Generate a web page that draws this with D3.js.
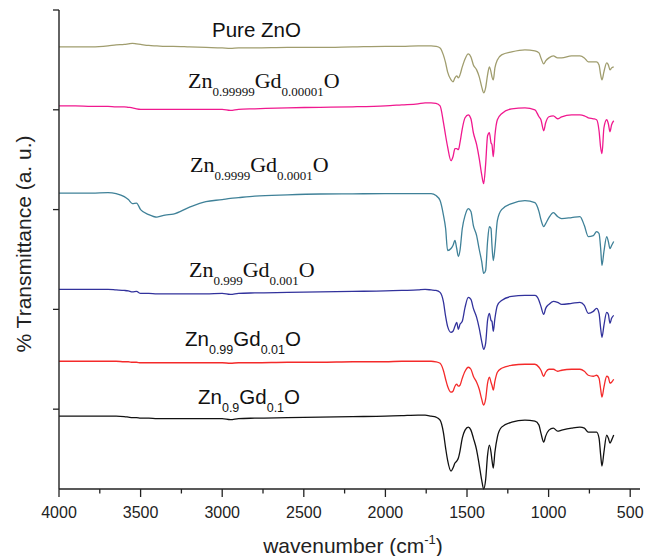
<!DOCTYPE html>
<html>
<head>
<meta charset="utf-8">
<script src="https://cdn.jsdelivr.net/npm/d3@7/dist/d3.min.js"></script>
<style>
body{margin:0;background:#fff;}
</style>
</head>
<body>
<svg id="chart" width="646" height="556"></svg>
<script>
// rejilla de numeros de onda (cm-1)
var wavenumber = [4000,3900,3800,3700,3650,3600,3575,3550,3525,3500,3450,3400,3350,3300,3200,3100,3000,2950,2900,2800,2600,2400,2200,2000,1900,1800,
	1757,1720,1690,1665,1645,1631,1619,1598,1586,1574,1563,1553,1543,1529,1512,1492,1476,1461,1441,1425,
	1410,1398,1386,1374,1363,1353,1347,1339,1329,1314,1288,1226,1145,1084,1059,1047,1030,1018,998,971,
	945,920,859,808,781,757,726,706,691,681,673,661,644,634,624,614,601];

// caida de transmitancia bajo la linea base de cada espectro (a. u.)
var pureZnO = [1,1,1,0,-1,-1.5,-2,-2.5,-2,-1.5,-0.5,0,0.5,0.5,1,1.5,2,2.5,2,2,1.5,1.5,1,0.5,0.5,0,
	0,0,0.5,2,9,17,26,34,36,32,30,32,29,21,13,8,11,19,24,31,41,47,42,29,21,26,31,34,22,14,9,6,4,5,7,12,18,15,12,10,12,12,10,10,12,16,16,16,19,29,34,26,17,19,24,22,21];
var gd00001 = [3,3,3.5,3.5,4,4,4.5,5,6,6.5,6.5,6.5,6.5,6.5,6.5,6.5,6.5,7.5,6.5,6,5,4.5,4,3,2,1,
	0,0,0.5,3,19,33,44,58,54,46,46,47,40,26,15,12,16,30,42,56,72,81,62,33,30,40,42,54,33,17,11,6,5,7,14,17,28,20,14,13,16,14,12,12,13,15,16,17,28,45,51,25,17,21,29,22,18];
var gd0001 = [-0.5,-0.5,-0.5,-1,0,3,6,10,9.5,16,21,23.5,21.5,20.5,13.5,8,6,4.8,4,2.5,1.2,0.4,0.2,0,0,0,
	0,0,2,7,21,35,57,55,52,47,55,63,57,35,22,15,18,32,42,56,68,80,77,48,33,35,52,67,55,27,16,10,7,9,18,26,33,30,24,19,23,25,24,23,32,43,42,38,40,55,72,58,43,48,55,52,48];
var gd001 = [0,0,0,0,0.5,1,1.5,2.5,2,4,4,4.5,4.5,4.5,4.5,4.5,4,5,4,3.5,3,2.5,2,1.5,1,0.5,
	0,0.5,1,3,12,27,37,43,42,37,33,40,35,32,18,8,10,19,28,39,52,60,54,31,24,31,32,42,29,16,11,7,6,6,11,17,25,19,15,12,13,15,14,13,16,24,22,19,24,39,48,36,23,25,34,29,26];
var gd01 = [0,0,0,0,0,0.5,0.5,1,1,1.5,1.5,1.5,1.5,1.5,1.5,1.5,1.5,2,1.5,1.5,1,1,0.5,0.5,0,0,
	0,0,0.5,2,9,18,25,31,30,25,23,25,24,17,10,6,8,15,21,28,38,44,38,22,16,21,24,29,20,11,7,4,3,3,6,9,15,11,8,8,10,9,8,8,10,14,15,14,17,28,36,26,15,16,22,21,18];
var gd1 = [1,1,1,1,1,1.5,2,2.5,2.5,3,3,3.5,3.5,3.5,3.5,3.5,3.5,4.5,3.5,3,2.5,2,1.5,1,0.5,0,
	0,1,2,5,17,33,45,56,53,48,46,43,36,23,15,12,15,23,35,50,65,74,65,40,30,37,45,53,37,22,12,7,5,6,10,18,27,21,15,13,16,15,13,12,13,17,17,17,23,40,51,37,20,23,28,25,20];

// desplazamiento vertical de cada espectro (a. u.)
var offsets = [444, 387, 296, 200, 128, 74];
var series = [pureZnO, gd00001, gd0001, gd001, gd01, gd1];

// etiquetas: partes alternas normal / subindice
var labels = [
	["Pure ZnO"],
	["Zn","0.99999","Gd","0.00001","O"],
	["Zn","0.9999","Gd","0.0001","O"],
	["Zn","0.999","Gd","0.001","O"],
	["Zn","0.99","Gd","0.01","O"],
	["Zn","0.9","Gd","0.1","O"]
];
var xTicks = [4000,3750,3500,3250,3000,2750,2500,2250,2000,1750,1500,1250,1000,750,500];
var yTicks = [80,180,280,380,480];

var colores = ["#a09d6e","#f0198f","#3f8198","#32329c","#f42a2a","#111111"];
// posicion de etiquetas (x inicio, linea base), familia y tamanos
var labelPos = [
	{x:212, y:37, fam:"Liberation Sans", big:20.5, small:20.5},
	{x:188, y:88, fam:"Liberation Serif", big:22, small:13},
	{x:190, y:172, fam:"Liberation Serif", big:22, small:13},
	{x:189, y:277, fam:"Liberation Serif", big:22, small:13},
	{x:185, y:346, fam:"Liberation Sans", big:20.5, small:12.5},
	{x:198, y:404, fam:"Liberation Sans", big:20.5, small:12.5}
];

var svg = d3.select("#chart");
var x = d3.scaleLinear().domain([4000, 440]).range([59, 640]);
var y = d3.scaleLinear().domain([0, 480]).range([489, 10]);

series.forEach(function(s, k){
	var pts = wavenumber.map(function(w, i){ return [w, offsets[k] - s[i]]; });
	var line = d3.line()
		.x(function(d){ return x(d[0]); })
		.y(function(d){ return y(d[1]); })
		.curve(d3.curveMonotoneX);
	svg.append("path")
		.attr("d", line(pts))
		.attr("fill", "none")
		.attr("stroke", colores[k])
		.attr("stroke-width", 1.3)
		.attr("stroke-linejoin", "round");
});

// ejes
var gx = svg.append("g").attr("transform", "translate(0,489)");
gx.append("line").attr("x1", 59).attr("x2", 640).attr("y1", 0).attr("y2", 0)
	.attr("stroke", "#222").attr("stroke-width", 1.4);
gx.selectAll("line.t").data(xTicks).enter().append("line")
	.attr("class", "t")
	.attr("x1", function(d){ return x(d); })
	.attr("x2", function(d){ return x(d); })
	.attr("y1", 0)
	.attr("y2", function(d){ return d % 500 == 0 ? 8 : 4.5; })
	.attr("stroke", "#222").attr("stroke-width", 1.3);
gx.selectAll("text").data(xTicks.filter(function(d){ return d % 500 == 0; })).enter().append("text")
	.attr("x", function(d){ return x(d); })
	.attr("y", 29)
	.attr("text-anchor", "middle")
	.attr("font-family", "Liberation Sans, Arial, sans-serif")
	.attr("font-size", "16px")
	.attr("fill", "#222")
	.text(function(d){ return d; });

var gy = svg.append("g");
gy.append("line").attr("x1", 59).attr("x2", 59).attr("y1", y(480)).attr("y2", 489)
	.attr("stroke", "#222").attr("stroke-width", 1.4);
gy.selectAll("line.t").data(yTicks).enter().append("line")
	.attr("class", "t")
	.attr("x1", 53).attr("x2", 59)
	.attr("y1", function(d){ return y(d); })
	.attr("y2", function(d){ return y(d); })
	.attr("stroke", "#222").attr("stroke-width", 1.3);

// titulos de ejes
var xt = svg.append("text")
	.attr("x", 353).attr("y", 553)
	.attr("text-anchor", "middle")
	.attr("font-family", "Liberation Sans, Arial, sans-serif")
	.attr("font-size", "21px")
	.attr("fill", "#222");
xt.append("tspan").text("wavenumber (cm");
xt.append("tspan").attr("font-size", "13px").attr("dy", -9).text("-1");
xt.append("tspan").attr("dy", 9).text(")");

svg.append("text")
	.attr("transform", "translate(31,244) rotate(-90)")
	.attr("text-anchor", "middle")
	.attr("font-family", "Liberation Sans, Arial, sans-serif")
	.attr("font-size", "21px")
	.attr("fill", "#222")
	.text("% Transmittance (a. u.)");

// etiquetas de las muestras
labels.forEach(function(parts, k){
	var p = labelPos[k];
	var t = svg.append("text")
		.attr("x", p.x).attr("y", p.y)
		.attr("font-family", p.fam)
		.attr("font-size", p.big + "px")
		.attr("fill", "#111");
	parts.forEach(function(txt, i){
		var ts = t.append("tspan").text(txt);
		if (i % 2 == 1){
			ts.attr("font-size", p.small + "px").attr("dy", 8);
		} else if (i > 0){
			ts.attr("dy", -8);
		}
	});
});
</script>
</body>
</html>
